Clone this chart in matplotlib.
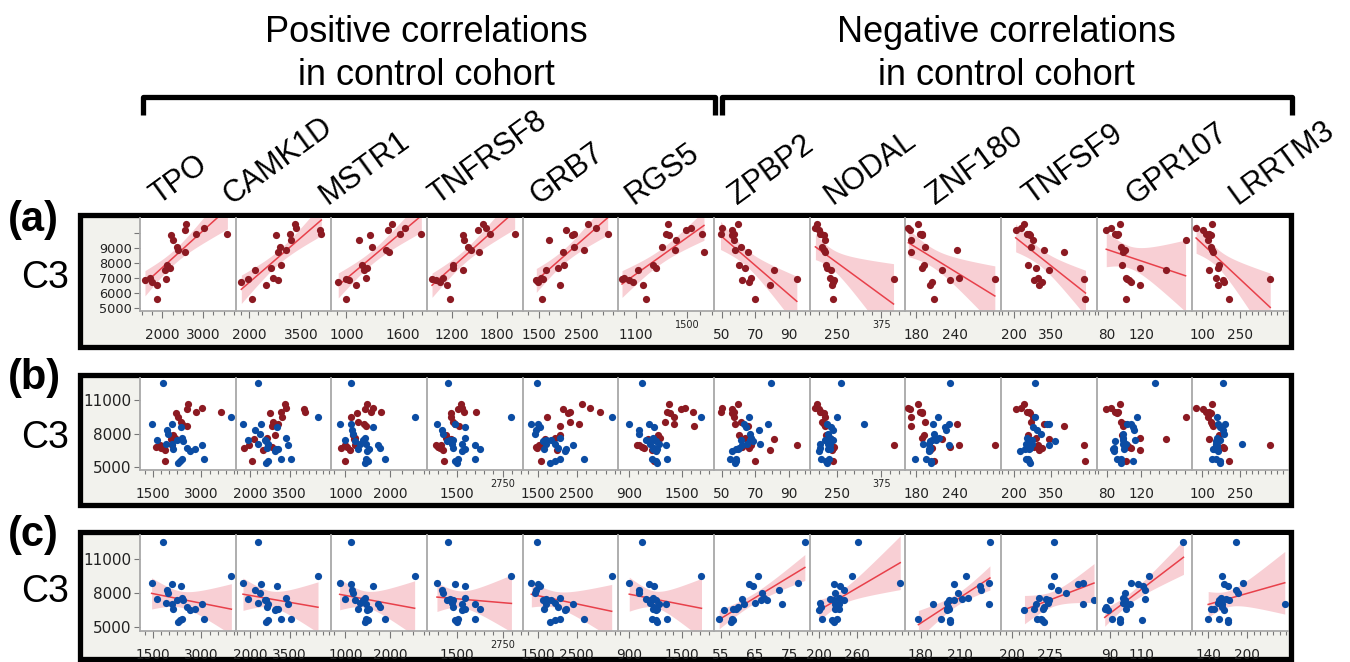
import numpy as np
import matplotlib
matplotlib.use("Agg")
import matplotlib.pyplot as plt
from matplotlib.patches import Rectangle
from matplotlib.lines import Line2D
from matplotlib.ticker import MultipleLocator
from matplotlib.transforms import blended_transform_factory

plt.rcParams['font.family'] = ['Liberation Sans', 'DejaVu Sans']

# ---------------- data ----------------
genes = ['TPO', 'CAMK1D', 'MSTR1', 'TNFRSF8', 'GRB7', 'RGS5',
         'ZPBP2', 'NODAL', 'ZNF180', 'TNFSF9', 'GPR107', 'LRRTM3']

# C3 of the control cohort (same subjects in every panel)
c3_control = [10600, 10200, 9950, 10300, 9950, 9850, 9500, 9050, 8850, 8700,
              7850, 7550, 7650, 6950, 6850, 7000, 6750, 6500, 5600]

ctrl_TPO = [2592, 2552, 2820, 3023, 3593, 2202, 2267, 2349, 2389, 2552, 2105, 2064, 2186, 2088, 1576, 1698, 1739, 1861, 1877]
ctrl_CAMK1D = [3312, 4037, 4085, 3360, 3166, 2760, 3200, 2876, 3070, 2828, 2925, 2151, 2635, 1958, 2828, 2683, 1764, 2490, 2074]
ctrl_MSTR1 = [1487, 1441, 1564, 1617, 1794, 1250, 1137, 1271, 1419, 1450, 1165, 1190, 1214, 995, 1030, 1207, 914, 1100, 1000]
ctrl_TNFRSF8 = [1616, 1549, 1705, 1661, 2037, 1350, 1359, 1416, 1461, 1563, 1209, 1350, 1217, 934, 987, 1084, 1040, 1129, 1173]
ctrl_GRB7 = [2649, 2145, 2322, 2844, 3115, 2285, 1740, 2339, 2572, 2066, 2083, 1679, 1950, 1601, 1446, 1546, 1484, 1989, 1586]
ctrl_RGS5 = [1346, 1490, 1333, 1529, 1620, 1360, 1411, 1302, 1406, 1633, 1228, 1116, 1254, 988, 1045, 1006, 1071, 1157, 1176]
ctrl_ZPBP2 = [59.7, 56.2, 49.1, 50.2, 57.1, 56.2, 57.1, 61.1, 58.0, 65.7, 60.1, 81.0, 63.7, 94.8, 62.1, 67.1, 66.1, 79.0, 70.0]
ctrl_NODAL = [195, 200, 207, 191, 205, 214, 217, 210, 214, 219, 220, 235, 223, 409, 242, 232, 240, 237, 240]
ctrl_ZNF180 = [183.1, 170, 185.8, 167.3, 188.4, 188, 172, 193.6, 243.6, 171, 191.5, 220, 188.4, 303, 232.4, 246.3, 204.7, 202, 208.3]
ctrl_TNFSF9 = [240, 206, 250, 227, 260, 262, 274, 267, 321, 402, 254, 341, 288, 483, 281, 294, 314, 301, 487]
ctrl_GPR107 = [94.9, 79.6, 89.1, 85.3, 92.9, 91.7, 170.5, 96.8, 100.6, 98.7, 98, 148.5, 118, 103.6, 105.6, 101.8, 107.5, 118.8, 101.8]
ctrl_LRRTM3 = [140, 102, 116, 76, 129, 135, 122, 135, 140, 142, 169, 129, 162, 372, 182, 156, 189, 162, 209]

# C3 of the patient cohort
c3_patient = [12540, 9480, 8890, 8830, 8590, 8300, 8000, 7580, 7440, 7400, 7350,
              7110, 7050, 6990, 6750, 6600, 6600, 6450, 5710, 5710, 5560, 5410]

pat_TPO = [1810, 3930, 1448, 2068, 2358, 1913, 1965, 2379, 1603, 2244, 2430, 1882, 2068, 3030, 2554, 2120, 2792, 2637, 3071, 2379, 2327, 2275]
pat_CAMK1D = [2292, 4578, 1720, 2393, 3028, 2165, 2356, 3346, 1911, 2546, 2610, 2292, 2673, 3435, 2648, 3054, 2991, 2927, 3562, 3181, 2673, 2610]
pat_MSTR1 = [1134, 2541, 874, 1134, 1615, 1156, 1171, 1430, 986, 1393, 1208, 1319, 1467, 1726, 1764, 1282, 1526, 1480, 1875, 1455, 1504, 1440]
pat_TNFRSF8 = [1276, 2987, 970, 1456, 1726, 1105, 1141, 1726, 1321, 1411, 1231, 1366, 1636, 1996, 1411, 2131, 1726, 1636, 1996, 1546, 1456, 1501]
pat_GRB7 = [1492, 3403, 1339, 1508, 1551, 1466, 1423, 2063, 1705, 1850, 1637, 1935, 1722, 2404, 2021, 1654, 2236, 2193, 2687, 2063, 1935, 1807]
pat_RGS5 = [1044, 1719, 900, 1119, 1183, 1006, 1014, 1165, 1089, 1142, 1202, 1130, 1239, 1315, 1183, 1220, 1165, 1202, 1333, 1157, 1202, 1220]
pat_ZPBP2 = [79.5, 66.0, 77.5, 63.4, 64.4, 71.9, 67.0, 67.6, 61.3, 66.7, 68.6, 65.0, 72.8, 61.9, 60.0, 58.5, 59.5, 56.1, 58.4, 54.6, 58.5, 58.0]
pat_NODAL = [261.6, 252.2, 328, 223.6, 234, 239.2, 226.2, 231.4, 218.4, 239.2, 223.6, 202.9, 226.2, 231.4, 204.5, 226.2, 231.4, 200.1, 229, 205.3, 220.5, 223.6]
pat_ZNF180 = [232.4, 214.3, 231.6, 205.4, 225.2, 226, 208.2, 215.6, 211.3, 204.9, 201.1, 199.8, 189.6, 231.6, 200.6, 199.8, 201.1, 199.8, 195, 178.2, 202.1, 202.1]
pat_TNFSF9 = [283.8, 283.8, 341.2, 331.2, 277.6, 290.9, 306.4, 252.1, 267.6, 272.8, 362.7, 270.8, 247.4, 341.2, 263.6, 243.3, 261.6, 224.1, 249.4, 256.2, 259.5, 263.6]
pat_GPR107 = [135.9, 114.8, 103.5, 107.6, 110.7, 111.7, 99.3, 98.3, 112.3, 99.3, 90, 98.3, 102.4, 100.4, 88, 87, 100.4, 88.9, 91.6, 96.2, 110, 96.2]
pat_LRRTM3 = [182.9, 160.6, 193.2, 163.7, 169.9, 182.9, 186, 159.1, 167.1, 172.2, 156.7, 154.1, 257.5, 161.4, 161.4, 143.3, 148.4, 163.9, 139.6, 156.7, 169.9, 169.9]

control_x = [ctrl_TPO, ctrl_CAMK1D, ctrl_MSTR1, ctrl_TNFRSF8, ctrl_GRB7, ctrl_RGS5,
             ctrl_ZPBP2, ctrl_NODAL, ctrl_ZNF180, ctrl_TNFSF9, ctrl_GPR107, ctrl_LRRTM3]
patient_x = [pat_TPO, pat_CAMK1D, pat_MSTR1, pat_TNFRSF8, pat_GRB7, pat_RGS5,
             pat_ZPBP2, pat_NODAL, pat_ZNF180, pat_TNFSF9, pat_GPR107, pat_LRRTM3]

# x tick labels per row (regular, and the small squeezed ones)
labels_a = [[2000, 3000], [2000, 3500], [1000, 1600], [1200, 1800], [1500, 2500], [1100],
            [50, 70, 90], [250], [180, 240], [200, 350], [80, 120], [100, 250]]
small_a = [[], [], [], [], [], [1500], [], [375], [], [], [], []]
labels_b = [[1500, 3000], [2000, 3500], [1000, 2000], [1500], [1500, 2500], [900, 1500],
            [50, 70, 90], [250], [180, 240], [200, 350], [80, 120], [100, 250]]
small_b = [[], [], [], [2750], [], [], [], [375], [], [], [], []]
labels_c = [[1500, 3000], [2000, 3500], [1000, 2000], [1500], [1500, 2500], [900, 1500],
            [55, 65, 75], [200, 260], [180, 210], [200, 275], [90, 110], [140, 200]]
small_c = [[], [], [], [2750], [], [], [], [], [], [], [], []]

# axis ranges
xlim_a = [(1454, 3796), (1600, 4375), (841, 1854), (867, 2144), (1127, 3364), (959, 1712),
          (45.2, 102.5), (175, 442), (162.6, 312.7), (147, 532), (68.6, 178.3), (61, 443)]
xlim_b = [(1086, 4064), (1441, 5086), (689, 2816), (700, 3292), (1116, 3574), (776, 1861),
          (45.2, 102.5), (175, 442), (162.6, 312.7), (147, 532), (68.6, 178.3), (61, 443)]
xlim_c = [(1086, 4064), (1441, 5086), (689, 2816), (700, 3292), (1116, 3574), (776, 1861),
          (53.1, 80.9), (186, 336), (168.3, 240.8), (177.3, 368), (82, 141.4), (115.2, 262.5)]
step_a = [250, 250, 100, 200, 250, 100, 5, 25, 10, 25, 10, 25]
step_b = [250, 250, 250, 250, 250, 100, 5, 25, 10, 25, 10, 25]
step_c = [250, 250, 250, 250, 250, 100, 2.5, 10, 5, 12.5, 5, 10]

# ---------------- figure ----------------
W, H = 1350, 662
fig = plt.figure(figsize=(W / 100, H / 100), dpi=100)


def fx(x):
    return x / W


def fy(y):
    return 1 - y / H


RED = '#8c1a22'
BLUE = '#0b4ca3'
LINE = '#e8404a'
BAND = '#f8cfd4'
SEP = '#a8a8a8'
BG = '#f2f2ed'
TXT = '#222222'

PL = 140.0
PW = (1288.0 - 140.0) / 12
# pixel x of the start of each rotated gene name
HEAD_X = [158, 232, 327, 437, 538, 633, 737, 832, 935, 1031, 1135, 1237]

rows = [
    dict(tag='(a)', box=(215, 347), plot=(218, 311), ylim=(4800, 10980),
         yt=[5000, 6000, 7000, 8000, 9000, 10000], ytl=['5000', '6000', '7000', '8000', '9000', ''],
         yfs=9.3, xl=xlim_a, lab=labels_a, small=small_a, step=step_a, tagy=220, c3y=278),
    dict(tag='(b)', box=(375, 505), plot=(378, 470), ylim=(4760, 12960),
         yt=[5000, 8000, 11000], ytl=['5000', '8000', '11000'],
         yfs=11, xl=xlim_b, lab=labels_b, small=small_b, step=step_b, tagy=378, c3y=438),
    dict(tag='(c)', box=(532, 659), plot=(535, 631), ylim=(4620, 13170),
         yt=[5000, 8000, 11000], ytl=['5000', '8000', '11000'],
         yfs=11, xl=xlim_c, lab=labels_c, small=small_c, step=step_c, tagy=535, c3y=592),
]


def draw_fit(ax, x, y):
    x = np.asarray(x, float)
    y = np.asarray(y, float)
    n = len(x)
    slope, icpt = np.polyfit(x, y, 1)
    resid = y - (icpt + slope * x)
    s = np.sqrt(np.sum(resid ** 2) / (n - 2))
    xm = x.mean()
    sxx = np.sum((x - xm) ** 2)
    xs = np.linspace(x.min(), x.max(), 120)
    yh = icpt + slope * xs
    se = s * np.sqrt(1.0 / n + (xs - xm) ** 2 / sxx)
    ax.fill_between(xs, yh - 2.1 * se, yh + 2.1 * se, color=BAND, lw=0, zorder=1)
    ax.plot(xs, yh, color=LINE, lw=1.1, zorder=2)


for r, row in enumerate(rows):
    bt, bb = row['box']
    fig.add_artist(Rectangle((fx(80), fy(bb)), fx(1291) - fx(80), fy(bt) - fy(bb),
                             transform=fig.transFigure, facecolor=BG, edgecolor='black',
                             lw=3.8, zorder=-1))
    pt, pb = row['plot']
    for i, g in enumerate(genes):
        ax = fig.add_axes([fx(PL + i * PW), fy(pb), PW / W, (pb - pt) / H])
        ax.set_facecolor('white')
        ax.set_xlim(*row['xl'][i])
        ax.set_ylim(*row['ylim'])
        for sp in ['top', 'right']:
            ax.spines[sp].set_visible(False)
        for sp in ['left', 'bottom']:
            ax.spines[sp].set_color(SEP)
            ax.spines[sp].set_linewidth(1.3)
        if r == 0:
            draw_fit(ax, control_x[i], c3_control)
            ax.scatter(control_x[i], c3_control, s=27, color=RED, lw=0, zorder=3)
        elif r == 1:
            ax.scatter(control_x[i], c3_control, s=27, color=RED, lw=0, zorder=3)
            ax.scatter(patient_x[i], c3_patient, s=27, color=BLUE, lw=0, zorder=3)
        else:
            draw_fit(ax, patient_x[i], c3_patient)
            ax.scatter(patient_x[i], c3_patient, s=27, color=BLUE, lw=0, zorder=3)

        # x ticks
        ax.set_xticks(row['lab'][i] + row['small'][i],
                      labels=[str(v) for v in row['lab'][i]] + [''] * len(row['small'][i]))
        ax.xaxis.set_minor_locator(MultipleLocator(row['step'][i]))
        ax.tick_params(axis='x', which='major', length=5, width=0.8, color='#777777',
                       pad=7, labelsize=9.8, labelcolor=TXT)
        ax.tick_params(axis='x', which='minor', length=3, width=0.8, color='#777777')
        for lab in ax.get_xticklabels():
            lab.set_family('DejaVu Sans')
        trans = blended_transform_factory(ax.transData, ax.transAxes)
        for v in row['small'][i]:
            ax.annotate(str(v), xy=(v, 0), xycoords=trans, xytext=(0, -10),
                        textcoords='offset points', ha='center', va='center',
                        fontsize=7, color=TXT, family='DejaVu Sans')
        # y ticks
        if i == 0:
            ax.set_yticks(row['yt'], labels=row['ytl'])
            ax.tick_params(axis='y', length=4.5, width=0.8, color='#777777', pad=1.5,
                           labelsize=row['yfs'], labelcolor=TXT)
            for lab in ax.get_yticklabels():
                lab.set_family('DejaVu Sans')
        else:
            ax.set_yticks([])
    fig.text(fx(8), fy(row['tagy']), row['tag'], fontsize=30, fontweight='bold',
             ha='left', va='center')
    fig.text(fx(21), fy(row['c3y']), 'C3', fontsize=27, ha='left', va='center')

# column headings
for i, g in enumerate(genes):
    fig.text(fx(HEAD_X[i]), fy(205), g, fontsize=22, rotation=36,
             rotation_mode='anchor', ha='left', va='baseline')

# brackets
for x0, x1 in [(143, 715), (722, 1292)]:
    fig.add_artist(Line2D([fx(x0), fx(x0), fx(x1), fx(x1)], [fy(115), fy(97), fy(97), fy(115)],
                          transform=fig.transFigure, color='black', lw=3.8,
                          solid_joinstyle='round', solid_capstyle='butt'))

fig.text(fx(426), fy(42), 'Positive correlations', fontsize=26, ha='center', va='baseline')
fig.text(fx(426), fy(85), 'in control cohort', fontsize=26, ha='center', va='baseline')
fig.text(fx(1006), fy(42), 'Negative correlations', fontsize=26, ha='center', va='baseline')
fig.text(fx(1006), fy(85), 'in control cohort', fontsize=26, ha='center', va='baseline')

fig.savefig('out.png', dpi=100)
